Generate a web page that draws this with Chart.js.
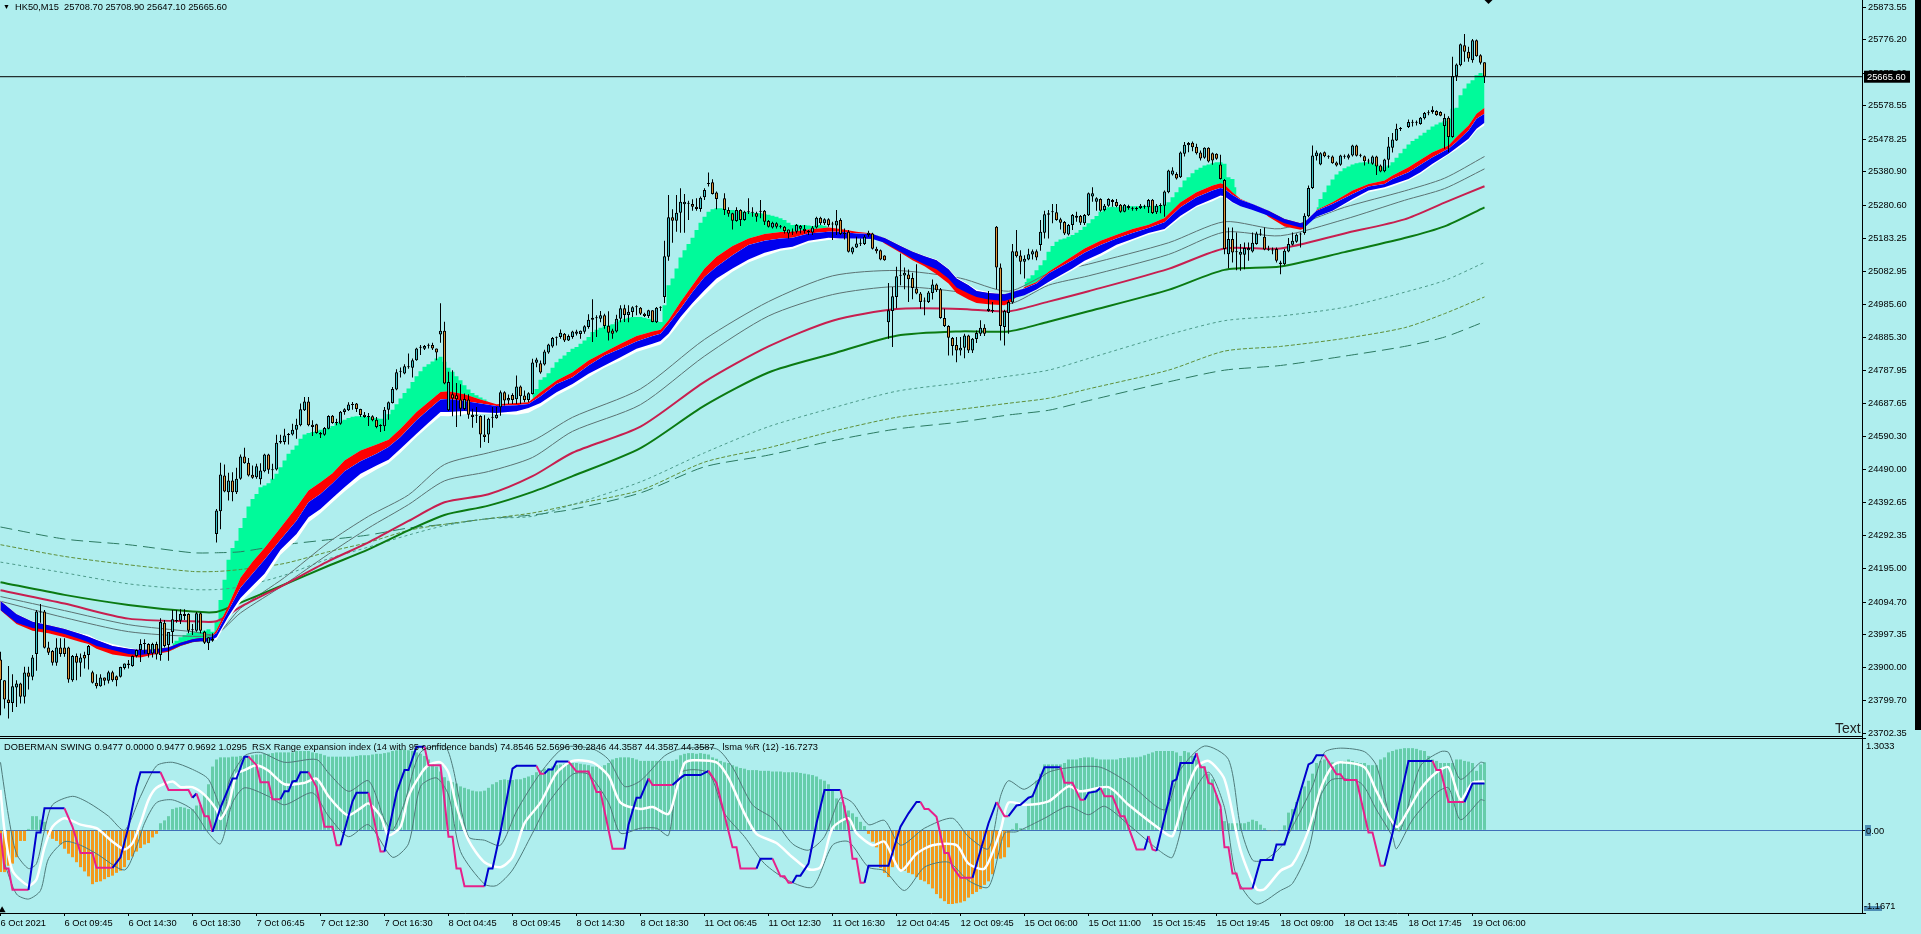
<!DOCTYPE html>
<html>
<head>
<meta charset="utf-8">
<title>HK50,M15</title>
<script src="https://cdn.jsdelivr.net/npm/chart.js@4/dist/chart.umd.min.js"></script>
<style>
  html, body { margin: 0; padding: 0; background: #afeeee; overflow: hidden; }
  #page { position: relative; width: 1921px; height: 934px; overflow: hidden; background: #afeeee; }
  canvas { position: absolute; left: 0; }
  #priceChart { top: 0; }
  #swingChart { top: 738px; }
  .txt { position: absolute; font: 9.3px "Liberation Sans", sans-serif; color: #000; white-space: pre; line-height: 12px; z-index: 5; }
  .sep { position: absolute; left: 0; width: 1862px; height: 1px; background: #000; z-index: 4; }
  #edge { position: absolute; left: 1915px; top: 0; width: 6px; height: 730px; background: #000; }
  .tag { position: absolute; background: #4f8fb5; z-index: 4; }
</style>
</head>
<body>
<div id="page">
  <canvas id="priceChart" width="1915" height="745"></canvas>
  <canvas id="swingChart" width="1915" height="196"></canvas>
  <div class="sep" style="top:736px"></div>
  <div class="sep" style="top:738px"></div>
  <div id="edge"></div>
  <div class="txt" style="left:3px;top:1px;font-size:7px">▼</div>
  <div class="txt" style="left:15px;top:1px">HK50,M15  25708.70 25708.90 25647.10 25665.60</div>
  <div class="txt" style="left:4px;top:741px">DOBERMAN SWING 0.9477 0.0000 0.9477 0.9692 1.0295  RSX Range expansion index (14 with 95 confidence bands) 74.8546 52.5696 30.2846 44.3587 44.3587 44.3587   lsma %R (12) -16.7273</div>
  <div class="txt" style="left:1835px;top:721px;font-size:14px;line-height:15px;color:#222">Text</div>
  <div class="tag" style="left:1865px;top:825px;width:6px;height:11px"></div>
  <div class="tag" style="left:1864px;top:906px;width:18px;height:5px"></div>
  <div class="txt" style="left:1866px;top:740px">1.3033</div>
  <div class="txt" style="left:1866px;top:825px">0.00</div>
  <div class="txt" style="left:1864px;top:900px">-1.1671</div>
</div>
<script>
const lastPrice = 25665.6;

const priceTicks = [25873.55, 25776.20, 25675.90, 25578.55, 25478.25, 25380.90, 25280.60, 25183.25, 25082.95, 24985.60, 24885.30, 24787.95,
  24687.65, 24590.30, 24490.00, 24392.65, 24292.35, 24195.00, 24094.70, 23997.35, 23900.00, 23799.70, 23702.35];

const timeLabels = ["6 Oct 2021", "6 Oct 09:45", "6 Oct 14:30", "6 Oct 18:30", "7 Oct 06:45", "7 Oct 12:30", "7 Oct 16:30", "8 Oct 04:45",
  "8 Oct 09:45", "8 Oct 14:30", "8 Oct 18:30", "11 Oct 06:45", "11 Oct 12:30", "11 Oct 16:30", "12 Oct 04:45", "12 Oct 09:45",
  "15 Oct 06:00", "15 Oct 11:00", "15 Oct 15:45", "15 Oct 19:45", "18 Oct 09:00", "18 Oct 13:45", "18 Oct 17:45", "19 Oct 06:00"];

// candles, one entry per bar
const opens = [
  23923,23861,23803,23793,23839,23851,23811,23884,23871,23939, 24063,24066,23959,23948,23913,23959,23959,23959,23861,23933,
  23913,23936,23936,23885,23853,23843,23869,23859,23885,23873, 23871,23897,23906,23903,23933,23951,23969,23969,23941,23969,
  23936,24033,23966,24005,24038,24039,24053,24059,24010,24009, 24061,24006,23971,23979,24298,24366,24473,24423,24458,24423,
  24463,24530,24511,24475,24468,24462,24486,24536,24491,24491, 24572,24573,24594,24596,24610,24623,24668,24694,24625,24626,
  24600,24595,24613,24652,24630,24628,24663,24668,24684,24688, 24672,24655,24648,24650,24640,24621,24620,24670,24690,24730,
  24783,24778,24797,24795,24818,24855,24852,24861,24863,24853, 24895,24906,24668,24716,24713,24700,24672,24700,24655,24652,
  24651,24596,24596,24646,24644,24677,24722,24697,24714,24701, 24739,24712,24699,24717,24810,24809,24805,24841,24859,24885,
  24887,24897,24877,24887,24897,24896,24903,24917,24939,24943, 24942,24952,24921,24907,24904,24942,24973,24953,24962,24976,
  24975,24957,24950,24967,24931,24975,25007,25127,25245,25235, 25259,25284,25286,25285,25277,25270,25305,25345,25350,25319,
  null,25302,25267,25257,25234,25267,25237,25260,25259,25257, 25262,25265,25234,25215,25227,25217,25217,25197,25200,25202,
  25211,25211,25201,25200,25215,25244,25227,25239,25224,25221, 25237,25195,25202,25140,25155,25166,25165,25192,25197,25151,
  25147,25131,24931,24965,25007,25070,25071,25074,25064,25032, 25017,24993,24992,25019,25044,25030,24944,24920,24884,24863,
  24847,24855,24892,24847,24881,24897,24915,24965,24965,25217, 25095,24917,24959,24990,25144,25131,25112,25119,25134,25144,
  25162,25199,25257,25260,25260,25239,25231,25194,25222,25244, 25249,25227,25251,25307,25292,25300,25267,25280,25291,25291,
  25283,25262,25279,25271,25270,25273,25277,25275,25298,25260, 25279,25280,25320,25373,25375,25365,25435,25461,25468,25456,
  25439,25423,25453,25437,25435,25403,25357,25135,25180,25141, 25133,25133,25147,25143,25165,25194,25187,25149,25146,25150,
  25105,25105,25143,25163,25172,25194,25198,25248,25333,25428, 25403,25440,25426,25427,25409,25402,25426,25423,25430,25460,
  25429,25428,25412,25405,25427,25400,25383,25417,25453,25475, 25509,null,25515,25528,25528,25524,25541,25556,25560,25563,
  25560,25518,25543,25485,25667,25700,25760,25740,25715,25775,25730,25708.7];
const highs = [
  23946,23861,23903,23879,23861,23853,23901,23901,23936,24071, 24089,24071,23976,23951,23986,23986,23986,23961,23936,23941,
  23941,23946,23966,23889,23879,23879,23869,23889,23889,23875, 23901,23911,23921,23935,23953,23983,23983,23971,23973,23976,
  24046,24041,24005,24071,24071,24073,24073,24061,24029,24065, 24063,24009,23989,24001,24373,24511,24506,24481,24483,24496,
  24536,24556,24525,24503,24508,24510,24538,24538,24508,24595, 24595,24613,24600,24628,24643,24688,24708,24708,24638,24628,
  24603,24618,24653,24654,24643,24666,24674,24692,24693,24690, 24673,24663,24660,24653,24648,24626,24678,24694,24738,24791,
  24796,24806,24838,24823,24855,24863,24863,24868,24870,24853, 24988,24933,24783,24788,24750,24746,24718,24716,24673,24678,
  24653,24653,24646,24678,24678,24727,24725,24715,24719,24772, 24742,24727,24722,24822,24825,24817,24849,24867,24887,24889,
  24910,24899,24895,24906,24909,24907,24922,24955,25000,24952, 24965,24957,24964,24912,24954,24982,24984,24982,24979,24982,
  24977,24960,24969,24967,24977,24979,25175,25312,25269,25312, 25332,25315,25295,25299,25302,25307,25332,25379,25359,25322,
  null,25317,25275,25259,25275,25269,25265,25302,25275,25262, 25297,25267,25237,25232,25230,25222,25219,25209,25212,25225,
  25222,25222,25207,25219,25247,25247,25242,25242,25232,25267, 25242,25212,25207,25157,25187,25182,25192,25205,25199,25157,
  25149,25132,25049,25037,25097,25137,25095,25089,25079,25105, 25022,25005,25025,25059,25047,25034,24972,24922,24887,24887,
  24887,24897,24894,24884,24907,24937,24925,25025,24992,25219, 25107,24969,24997,25165,25207,25147,25132,25151,25149,25149,
  25237,25265,25267,25285,25285,25244,25234,25225,25255,25262, 25252,25255,25319,25335,25305,25302,25285,25302,25300,25300,
  25285,25285,25283,25277,25277,25285,25283,25300,25300,25285, 25287,25325,25387,25395,25380,25442,25470,25470,25472,25465,
  25445,25455,25455,25439,25437,25432,25360,25215,25215,25200, 25165,25170,25170,25200,25202,25210,25215,25160,25155,25155,
  25115,25150,25183,25200,25197,25200,25257,25340,25460,25445, 25440,25442,25431,25430,25412,25432,25433,25435,25462,25462,
  25435,25430,25420,25430,25429,25403,25420,25485,25497,25525, 25515,null,25538,25537,25535,25545,25560,25565,25577,25565,
  25562,25555,25547,25725,25705,25765,25793,25755,25778,25777,25733,25708.9];
const lows = [
  23756,23776,23746,23766,23781,23791,23791,23833,23861,23889, 24033,23956,23936,23905,23904,23931,23931,23853,23856,23861,
  23871,23896,23893,23851,23836,23841,23846,23851,23856,23843, 23869,23893,23896,23901,23929,23915,23941,23929,23929,23923,
  23919,23959,23919,23971,24033,24029,24041,24001,23996,24006, 24001,23969,23951,23976,24273,24312,24423,24398,24396,24418,
  24460,24508,24470,24463,24463,24446,24483,24478,24461,24488, 24568,24566,24566,24593,24583,24620,24666,24620,24591,24598,
  24585,24592,24611,24628,24623,24625,24655,24666,24670,24663, 24648,24646,24621,24635,24614,24603,24606,24640,24688,24728,
  24766,24776,24792,24766,24816,24833,24848,24853,24848,24818, 24870,24746,24666,24650,24618,24650,24668,24643,24616,24630,
  24556,24573,24570,24616,24643,24652,24682,24687,24687,24687, 24687,24692,24692,24715,24797,24777,24802,24837,24855,24862,
  24882,24872,24875,24882,24892,24882,24897,24912,24872,24887, 24931,24912,24877,24882,24901,24931,24932,24931,24947,24952,
  24953,24947,24944,24931,24929,24965,24989,25115,25169,25202, 25199,25199,25237,25265,25265,25262,25297,25337,25313,25269,
  null,25252,25247,25209,25232,25219,25235,25255,25247,25232, 25242,25222,25215,25212,25212,25212,25197,25182,25192,25197,
  25197,25197,25192,25192,25212,25222,25222,25217,25177,25192, 25192,25179,25140,25135,25153,25159,25162,25187,25149,25137,
  25117,25115,24882,24857,24973,25042,25030,24992,25000,25015, 24972,24952,24989,24999,25022,24942,24917,24832,24832,24812,
  24832,24824,24839,24839,24869,24890,24890,24963,24959,25030, 24877,24862,24897,24987,25125,25075,25062,25117,25119,25117,
  25145,25182,25182,25227,25235,25209,25192,25191,25207,25232, 25222,25222,25249,25292,25265,25262,25263,25277,25277,25275,
  25259,25260,25268,25265,25265,25270,25271,25258,25255,25255, 25257,25247,25317,25370,25358,25363,25427,25440,25443,25433,
  25415,25420,25409,25402,25417,25358,25135,25093,25110,25087, 25085,25090,25115,25140,25163,25190,25147,25145,25135,25110,
  25075,25102,25141,25161,25169,25155,25193,25245,25330,25415, 25401,25425,25420,25405,25397,25399,25420,25418,25427,25427,
  25425,25400,25405,25402,25372,25380,25380,25393,25439,25473, 25503,null,25512,25517,25520,25522,25538,25550,25555,25549,
  25547,25450,25440,25483,25653,25697,25710,25710,25707,25725,25702,25647.1];
const closes = [
  23861,23803,23793,23843,23851,23811,23884,23871,23929,24066, 24066,23958,23943,23913,23959,23939,23939,23863,23933,23913,
  23929,23926,23963,23853,23843,23869,23859,23885,23861,23861, 23900,23911,23911,23933,23951,23969,23971,23939,23969,23938,
  24035,23963,24005,24043,24040,24059,24059,24009,24012,24061, 24009,23973,23989,23985,24368,24476,24425,24458,24423,24463,
  24530,24510,24473,24466,24501,24488,24536,24490,24489,24571, 24576,24593,24596,24610,24625,24671,24694,24623,24618,24600,
  24596,24615,24651,24630,24632,24664,24671,24685,24686,24672, 24654,24648,24650,24638,24618,24623,24670,24692,24732,24782,
  24785,24800,24799,24818,24853,24857,24860,24863,24853,24841, 24906,24748,24753,24703,24701,24673,24702,24655,24648,24654,
  24596,24588,24643,24648,24655,24722,24697,24705,24699,24739, 24710,24699,24719,24811,24820,24781,24844,24865,24884,24887,
  24900,24877,24890,24904,24904,24906,24919,24939,24945,24945, 24952,24920,24900,24897,24942,24973,24953,24963,24976,24978,
  24957,24950,24967,24932,24975,24977,25129,25245,25235,25259, 25292,25292,25288,25277,25270,25304,25327,25347,25315,25300,
  null,25267,25256,25235,25267,25237,25262,25262,25261,25247, 25264,25232,25217,25229,25217,25219,25204,25209,25202,25222,
  25219,25204,25203,25215,25244,25227,25239,25222,25226,25235, 25195,25197,25142,25155,25167,25168,25187,25199,25151,25144,
  25119,25117,24967,25009,25069,25072,25079,25060,25034,25017, 24992,24995,25020,25044,25027,24944,24920,24885,24860,24847,
  24855,24892,24847,24882,24899,24915,24897,24972,24967,25095, 24920,24965,24992,25144,25129,25112,25121,25135,25144,25125,
  25202,25254,25253,25261,25237,25229,25197,25222,25252,25250, 25229,25252,25317,25317,25302,25265,25280,25300,25297,25278,
  25262,25283,25273,25273,25272,25280,25279,25297,25258,25280, 25281,25322,25385,25385,25361,25439,25462,25467,25455,25437,
  25421,25453,25412,25415,25420,25360,25150,25180,25140,25143, 25142,25153,25153,25169,25197,25196,25149,25147,25148,25115,
  25110,25145,25165,25175,25193,25196,25250,25333,25430,25439, 25437,25428,25428,25407,25400,25430,25428,25431,25460,25429,
  25431,25413,25414,25427,25397,25382,25418,25457,25478,25510, 25511,null,25530,25530,25530,25543,25557,25558,25567,25551,
  25549,25542,25485,25668,25702,25763,25740,25720,25775,25727,25707,25665.6];

// green cloud top, per bar, in four runs
const cloudStart = [43, 133, 256, 329];
const cloudA = [23971,23979,23989,23996,24001,24004,24006,24006,24009,24013,24006,
  24035,24101,24161,24221,24256,24278,24316,24346,24380,24403,24418,24438,24443,24450,24463,24478,24498,24518,24538,24550,24563,24583,24596,
  24600,24603,24606,24610,24612,24615,24621,24630,24636,24640,24645,24649,24650,24650,24649,24648,24646,24644,24643,24643,24656,24670,24686,
  24703,24720,24733,24753,24770,24785,24798,24806,24814,24823,24828,24813,24795,24783,24770,24758,24743,24730,24720,24713,24706,24700,24693];
const cloudB = [24719,24732,24759,24767,24779,24795,24812,24822,24832,24842,24852,24857,24867,24877,24887,24902,24909,24915,24919,24922,24925,
  24932,24937,24942,24945,24947,24947,24947,24945,24942,24939,24935,24932,24982,25042,25062,25092,25125,25147,25165,25184,25207,25229,25247,
  25262,25269,25272,25272,25270,25267,25267,25265,25264,25262,25260,25259,25258,25257,25255,25253,25250,25247,25242,25237,25229,25222,25224,
  25222,25222,25221,25219,25222,25222,25220,25217];
const cloudC = [25052,25062,25072,25087,25102,25117,25142,25159,25172,25179,25182,25187,25192,25199,25207,25217,25227,25239,25249,25262,25270,
  25275,25277,25275,25277,25278,25278,25278,25278,25278,25279,25279,25280,25280,25280,25283,25290,25305,25320,25335,25355,25365,25377,25387,
  25393,25400,25403,25407,25410,25410,25405,25365,25360,25335];
const cloudD = [25275,25300,25320,25340,25358,25373,25383,25392,25397,25403,25407,25409,25410,25410,25407,25403,25397,25395,25400,25410,25423,
  25437,25450,25463,25473,25480,25490,25498,25507,25517,25523,25529,25533,25540,25570,25573,25610,25630,25645,25655,25670,25677,25670];

// ribbon edges, read at these bars
const ribbonBars = [0,4,8,12,16,20,22,24,28,32,35,38,42,45,48,50,52,54,57,60,63,66,70,74,77,80,83,86,90,94,97,100,104,107,110,112,116,120,124,129,132,
  135,139,143,147,151,155,159,163,165,167,170,173,176,179,183,187,191,195,198,202,207,210,214,218,221,225,228,231,234,237,239,242,244,247,251,253,256,
  259,262,268,271,275,279,283,287,291,295,299,303,305,306,308,310,313,317,321,325,326,329,333,338,342,346,348,352,355,358,362,364,367,369,371];
const ribbonWhite = [24099,24059,24037,24026,24015,24001,23997,23983,23969,23958,23951,23953,23959,23973,23983,23987,23986,23981,24045,24095,24128,24164,
  24236,24280,24333,24360,24393,24425,24463,24491,24510,24541,24588,24620,24651,24650,24656,24658,24658,24655,24661,
  24679,24712,24737,24767,24795,24817,24842,24857,24865,24887,24932,24977,25012,25047,25082,25110,25129,25145,25150,25169,25177,25180,25182,25180,25184,
  25161,25143,25130,25119,25092,25065,25045,25029,25022,25015,25017,25012,25027,25047,25087,25107,25129,25155,25175,25193,25205,25243,25275,25293,25305,
  25305,25288,25278,25267,25265,25240,25227,25230,25247,25263,25295,25320,25330,25337,25355,25375,25400,25432,25447,25475,25505,25520];
const ribbonRed = [24070,24029,24009,24001,23989,23975,23969,23955,23938,23931,23929,23937,23946,23963,23974,23977,23979,24011,24085,24167,24215,24256,
  24317,24378,24428,24453,24480,24518,24548,24566,24580,24613,24663,24693,24723,24725,24716,24700,24686,24690,24692,
  24722,24757,24782,24817,24842,24867,24890,24904,24909,24937,24992,25042,25092,25127,25159,25182,25195,25201,25202,25209,25215,25210,25202,25197,25167,
  25139,25117,25099,25075,25047,25019,24999,24989,24985,24982,24995,25037,25052,25082,25129,25152,25175,25193,25210,25223,25243,25290,25320,25340,25347,
  25343,25320,25300,25285,25247,25218,25208,25212,25267,25290,25325,25345,25355,25370,25395,25417,25440,25460,25485,25520,25555,25573];
const blueUpper = [24098,24058,24036,24025,24014,23999,23991,23981,23963,23955,23951,23953,23959,23973,23983,23987,23986,24001,24070,24137,24179,24221,
  24281,24338,24393,24418,24450,24486,24516,24538,24558,24588,24638,24670,24700,24702,24696,24688,24681,24683,24687,
  24710,24747,24767,24802,24832,24852,24874,24890,24897,24925,24972,25022,25067,25097,25132,25162,25175,25182,25184,25197,25202,25202,25197,25195,25183,
  25159,25142,25129,25117,25090,25062,25042,25025,25019,25015,25022,25032,25047,25077,25117,25139,25162,25182,25198,25213,25230,25275,25305,25325,25333,
  25330,25312,25298,25285,25265,25240,25227,25230,25265,25285,25315,25337,25345,25360,25380,25402,25425,25450,25470,25505,25540,25555];
const blueLower = [24071,24033,24017,24011,23999,23983,23974,23963,23951,23939,23936,23941,23949,23965,23975,23977,23976,23989,24052,24107,24143,24179,
  24251,24298,24348,24373,24406,24438,24478,24503,24520,24553,24598,24631,24663,24663,24666,24662,24660,24665,24675,
  24690,24722,24747,24777,24802,24827,24852,24867,24875,24897,24947,24989,25027,25062,25092,25119,25139,25152,25157,25175,25184,25182,25182,25180,25169,
  25142,25122,25105,25090,25062,25035,25017,25007,24999,24995,25002,25012,25029,25052,25092,25115,25137,25163,25180,25198,25210,25250,25280,25300,25310,
  25308,25290,25278,25267,25250,25227,25215,25215,25247,25265,25300,25325,25335,25343,25360,25380,25405,25435,25453,25480,25510,25528];

// moving averages, read at these bars
const maBars = [0,16,32,48,54,60,71,82,92,102,111,122,133,143,160,176,192,208,224,240,252,262,272,292,306,320,336,351,361,371];
const maGreen = [24154,24116,24086,24066,24065,24093,24147,24203,24252,24309,24355,24383,24424,24471,24555,24682,24781,24837,24891,24904,24904,24933,24964,25028,25088,25098,25141,25183,25218,25275];
const maCrimson = [24130,24090,24045,24037,24037,24080,24147,24217,24273,24337,24393,24417,24471,24541,24619,24753,24859,24936,24971,24971,24964,24993,25024,25091,25152,25152,25197,25239,25289,25338];
const maGrayA = [24111,24069,24027,24006,23999,24076,24168,24273,24351,24415,24506,24541,24577,24647,24732,24880,24993,25070,25086,25063,25024,25077,25105,25169,25232,25211,25275,25324,25362,25427];
const maGrayB = [24097,24048,24006,23992,23999,24062,24147,24238,24316,24386,24457,24485,24527,24605,24685,24830,24950,25014,25038,25021,24986,25042,25070,25134,25201,25190,25239,25296,25331,25390];
const maLongDash = [24319,24283,24266,24242,24242,24245,24266,24281,24295,24316,24327,24344,24355,24372,24421,24499,24534,24577,24612,24633,24654,24668,24697,24753,24788,24802,24830,24859,24887,24933];
const maOlive = [24266,24231,24206,24186,24186,24192,24210,24245,24273,24309,24327,24344,24361,24386,24429,24513,24556,24605,24647,24671,24689,24704,24732,24788,24845,24859,24883,24915,24957,25007];
const maShortDash = [24214,24182,24149,24132,24132,24140,24175,24224,24259,24295,24323,24344,24351,24386,24454,24541,24619,24675,24725,24750,24770,24788,24823,24894,24936,24950,24976,25021,25056,25110];

// lower panel histogram, one entry per bar
const swingHist = [
  -.59,-.59,-.5,-.47,-.38,-.15,-.15,.02,.2,.2, .15,.12,-.09,-.12,-.15,-.2,-.26,-.33,-.38,-.45,
  -.52,-.58,-.65,-.76,-.73,-.72,-.69,-.66,-.64,-.6, -.57,-.52,-.42,-.37,-.3,-.25,-.2,-.18,-.1,-.05,
  .1,.14,.2,.3,.32,.33,.32,.3,.3,.35, .36,.5,.65,.9,1,1.03,1.03,1.03,1.04,1.04,
  1.05,1.05,1.05,1.06,1.07,1.07,1.08,1.08,1.09,1.1, 1.1,1.1,1.1,1.1,1.12,1.12,1.12,1.12,1.1,1.09,
  1.08,1.06,1.04,1.04,1.04,1.04,1.04,1.04,1.04,1.05, 1.06,1.06,1.06,1.07,1.08,1.08,1.09,1.1,1.12,1.13,
  1.14,1.14,1.13,1.12,1.1,1.08,1.05,1,.95,.9, .83,.75,.7,.68,.66,.62,.6,.58,.56,.55,
  .55,.56,.6,.65,.68,.71,.72,.71,.71,.72, .72,.74,.76,.78,.82,.85,.87,.88,.9,.92,
  .93,.94,.95,.95,.95,.94,.93,.92,.9,.9, .9,.92,.95,1,1.02,1.03,1.03,1.03,1.02,1,
  .98,.98,.98,.98,.98,.98,.98,.98,.98,1, 1.06,1.08,1.09,1.09,1.08,1.09,1.08,1.07,1.03,1.01,
  .98,.96,.95,.92,.9,.88,.87,.85,.85,.85, .84,.84,.84,.83,.83,.83,.82,.82,.82,.82,
  .81,.8,.79,.78,.76,.72,.7,.65,.57,.45, .4,.35,.28,.24,.19,.12,.06,-.05,-.16,-.24,
  -.53,-.6,-.66,-.52,-.5,-.55,-.57,-.6,-.62,-.66, -.7,-.72,-.76,-.82,-.9,-.96,-1,-1.04,-1.04,-1.03,
  -1.02,-1,-.95,-.9,-.87,-.83,-.77,-.72,-.62,-.4, -.4,-.38,-.24,.02,.1,.03,.02,.38,.5,.7,
  .8,.93,.93,.93,.93,.93,.95,1,1,1, 1.02,1.03,1.03,1.03,1.01,1,1,1,1,1,
  1.02,1.02,1.03,1.03,1.03,1.04,1.06,1.08,1.1,1.12, 1.12,1.12,1.12,1.12,1.1,1.05,1.12,1.1,1.05,1,
  .95,.9,.8,.72,.5,.3,.13,.1,.1,.1, .1,.1,.12,.15,.13,.08,.03,-.01,-.01,-.01,
  0,.07,.25,.3,.4,.55,.62,.7,.8,.95, .98,1,.98,.96,.95,.98,.98,1,.98,.96,
  .95,.95,.92,.92,.92,1,1.03,1.1,1.12,1.14, 1.15,1.16,1.16,1.16,1.15,1.13,1.12,1.05,1,.98,
  .95,.95,.95,.95,1,1,.98,.97,.95,.84,.93,.96];

// stepped swing line, vertices
const swingBars = [0,1,2,3,7,9,10,11,16,18,20,23,24,28,30,32,34,35,40,42,47,48,49,51,52,53,55,58,59,61,62,64,65,67,68,70,71,72,73,74,75,77,79,81,83,84,85,88,89,92,95,96,99,101,102,104,106,107,110,112,113,114,115,116,121,122,123,125,128,129,134,135,136,137,138,139,142,144,147,149,150,153,156,157,159,
  160,162,163,168,170,171,175,177,179,183,184,185,189,190,193,195,196,197,198,199,200,202,204,206,210,212,213,214,215,216,217,222,225,227,229,230,231,232,234,236,237,238,240,243,247,249,251,252,254,255,257,258,261,265,266,268,270,271,272,274,275,276,278,280,281,284,286,287,288,289,292,293,294,295,298,299,300,301,302,303,305,306,307,308,309,310,313,315,318,319,320,
  321,324,327,328,329,331,334,335,336,339,342,343,345,346,348,352,358,359,360,362,366,368,371];
const swingVals = [-.04,-.54,-.54,-.84,-.84,-.03,-.03,.31,.31,.05,-.32,-.32,-.53,-.53,-.38,.05,.62,.82,.82,.57,.57,.46,.52,.2,.2,-.02,.32,.73,.73,1.04,1.04,.92,.68,.68,.44,.44,.55,.55,.69,.7,.82,.82,.61,.05,.05,-.21,-.21,.41,.53,.53,-.3,-.3,.53,.85,.85,1.18,1.18,.92,.92,-.09,-.09,-.54,-.54,-.79,-.79,-.54,-.54,-.02,.87,.91,.91,.8,.8,.86,.86,.97,.97,.83,.83,.54,.54,-.26,-.26,.08,.46,
  .46,.73,.64,.64,.74,.78,.78,.84,.67,-.24,-.24,-.54,-.54,-.4,-.4,-.65,-.65,-.74,-.74,-.64,-.64,-.47,.1,.57,.57,.05,-.4,-.4,-.74,-.74,-.5,-.5,.05,.24,.4,.4,.3,.3,.19,-.32,-.32,-.52,-.67,-.67,.1,.4,.2,.2,.35,.36,.46,.48,.89,.89,.67,.67,.43,.43,.53,.55,.6,.48,.48,.2,.2,-.27,-.27,-.08,-.27,-.29,.41,.69,.72,.95,.95,1.09,.89,.89,.67,.65,.34,-.24,-.24,-.61,-.61,-.82,-.82,-.42,-.42,-.2,-.2,
  -.2,.36,.93,.96,1.06,1.06,.79,.79,.71,.71,-.03,-.03,-.5,-.5,-.04,.98,.98,.85,.85,.4,.4,.66,.66];

// white signal line
const whiteBars = [0,1,3,7,9,11,13,16,20,24,28,31,33,35,37,39,43,45,48,51,54,55,57,59,61,64,67,71,76,79,82,85,87,90,92,95,97,100,102,105,107,110,112,114,117,121,125,128,131,135,139,143,148,152,155,160,
  163,167,169,171,173,179,182,186,189,194,198,202,205,208,212,214,218,221,225,229,233,239,242,246,250,252,256,262,267,270,277,282,290,293,296,299,302,306,310,314,316,320,323,327,330,333,335,341,344,349,352,355,359,362,365,368,371];
const whiteVals = [.57,0,-.57,-.78,-.69,-.24,.05,.17,.08,.03,-.16,-.27,-.18,.1,.43,.6,.69,.61,.61,.5,.29,.16,.36,.79,.85,.92,.84,.65,.67,.73,.48,.29,.21,.31,.38,.2,-.07,.05,.48,.79,.92,.96,.81,.34,-.14,-.45,-.52,-.38,.1,.39,.81,.98,.96,.77,.39,.3,
  .33,.23,.58,.95,.99,.96,.74,.24,-.05,-.18,-.38,-.55,-.52,.03,.17,-.04,-.21,-.16,-.57,-.33,-.21,-.21,-.47,-.54,0,.39,.36,.41,.62,.55,.61,.36,.01,-.08,.48,.89,.98,.72,-.28,-.83,-.83,-.57,-.48,0,.58,.91,.96,.89,.55,.05,.29,.58,.82,.89,.43,.67,.69];

// confidence bands
const upperBars = [0,2,4,7,9,11,13,18,22,27,31,35,39,43,48,52,56,57,61,65,71,79,82,87,92,96,98,101,105,111,113,117,121,125,129,135,141,148,152,156,160,
  166,170,179,183,188,193,198,202,206,210,213,217,221,225,231,238,242,247,250,252,256,262,268,275,282,291,295,301,307,310,313,316,320,323,328,331,335,341,344,348,350,355,360,362,365,370,371];
const upperVals = [.96,.2,-.33,-.54,-.47,0,.36,.48,.39,.2,0,.48,.91,.96,.86,.72,.2,.67,1.05,1.1,.96,1,.81,.55,.7,.15,0,.39,1.1,1.19,.91,-.09,-.14,-.21,.27,.81,1.17,1.15,1,.62,.7,
  1.05,1.15,1.15,.89,.36,.17,-.19,-.28,-.09,.46,.39,.08,.14,-.21,.03,.17,-.09,-.26,.48,.7,.58,.82,.89,.89,.67,.29,.86,1.19,1,.05,-.42,-.42,-.24,.05,.62,1.1,1.16,1.11,.91,.05,0,.91,1.11,1.1,.72,.96,.95];
const lowerBars = [1,4,7,10,12,16,20,24,31,34,36,39,43,48,52,55,58,61,67,71,78,82,87,92,98,102,105,109,112,115,121,124,128,133,137,143,147,152,155,160,
  164,167,170,177,181,186,191,197,203,208,212,217,221,226,231,237,242,247,251,254,261,267,272,276,282,290,293,297,302,306,309,314,320,323,327,330,333,340,344,348,349,353,359,362,365,370,371];
const lowerVals = [-.47,-.9,-.97,-.85,-.4,-.16,-.21,-.33,-.56,-.23,.1,.39,.43,.29,-.04,-.19,.39,.6,.48,.36,.53,.2,-.09,.08,-.38,-.19,.62,.74,.5,-.3,-.76,-.78,-.56,-.04,.39,.79,.79,.39,-.04,.03,
  .03,-.07,.81,.81,.24,-.09,-.47,-.71,-.8,-.21,-.16,-.52,-.57,-.85,-.52,-.45,-.71,-.8,-.04,-.02,.17,.34,.22,.34,.08,-.3,-.38,.39,.82,.32,-.66,-1.04,-.85,-.75,-.28,.48,.72,.67,.29,-.09,-.26,.15,.53,.6,.15,.43,.42];

const barCount = opens.length;
const xMin = -0.125;
const xMax = 465.375;

Chart.defaults.font.family = '"Liberation Sans", sans-serif';
Chart.defaults.font.size = 9.3;
Chart.defaults.color = "#000";

const series = (bars, vals) => bars.map((bar, i) => ({ x: bar, y: vals[i] }));
const run = (start, vals) => vals.map((v, i) => ({ x: start + i, y: v }));

const cloudPoints = [
  ...run(cloudStart[0], cloudA), { x: cloudStart[0] + cloudA.length, y: null },
  ...run(cloudStart[1], cloudB), { x: cloudStart[1] + cloudB.length, y: null },
  ...run(cloudStart[2], cloudC), { x: cloudStart[2] + cloudC.length, y: null },
  ...run(cloudStart[3], cloudD),
];

const wickPoints = [];
const bodyPoints = [];
const bodyColors = [];
for (let i = 0; i < barCount; i++) {
  if (opens[i] === null) continue;
  wickPoints.push({ x: i, y: [lows[i], highs[i]] });
  bodyPoints.push({ x: i, y: [opens[i], closes[i]] });
  bodyColors.push(closes[i] >= opens[i] ? "#3cc4c8" : "#dd9438");
}

const thin = (label, bars, vals, color, width, dash, order) => ({
  type: "line", label, data: series(bars, vals), borderColor: color, borderWidth: width,
  borderDash: dash || [], pointRadius: 0, fill: false, order, tension: 0.25,
});

// white and red both fill to the blue upper edge, blue paints over the overlap
const ribbon = (label, vals, color, target, order) => ({
  type: "line", label, data: series(ribbonBars, vals), borderWidth: 0, borderColor: color,
  backgroundColor: color, pointRadius: 0, fill: target === null ? false : { target }, order,
});

const priceData = [
  { type: "line", label: "cloud", data: cloudPoints, stepped: "middle", borderWidth: 0, pointRadius: 0,
    backgroundColor: "#00fa9a", fill: { target: 2 }, order: 12, spanGaps: false },
  ribbon("white", ribbonWhite, "#ffffff", 3, 7),
  ribbon("red", ribbonRed, "#ff0000", 3, 7),
  ribbon("blue upper", blueUpper, "#0000ee", 4, 6),
  ribbon("blue lower", blueLower, "#0000ee", null, 6),
  thin("short dash", maBars, maShortDash, "#4d9a8a", 1, [3, 3], 11),
  thin("olive", maBars, maOlive, "#5f8f3a", 1, [4, 2], 11),
  thin("long dash", maBars, maLongDash, "#2c7a62", 1, [12, 6], 11),
  thin("gray a", maBars, maGrayA, "#5b7272", 1, [], 10),
  thin("gray b", maBars, maGrayB, "#5b7272", 1, [], 10),
  thin("crimson", maBars, maCrimson, "#c71f4f", 2, [], 8),
  thin("green", maBars, maGreen, "#0b7a12", 2, [], 8),
  { type: "bar", label: "wick", data: wickPoints, backgroundColor: "#000", maxBarThickness: 1, barPercentage: 1, categoryPercentage: 1,
    grouped: false, inflateAmount: 0, order: 3 },
  { type: "bar", label: "body", data: bodyPoints, backgroundColor: bodyColors, borderColor: "#000", borderWidth: 1, borderSkipped: false,
    maxBarThickness: 3, barPercentage: 1, categoryPercentage: 1, grouped: false, inflateAmount: 0, minBarLength: 1, order: 2 },
  { type: "line", label: "last", data: [{ x: xMin, y: lastPrice }, { x: xMax, y: lastPrice }], borderColor: "#000", borderWidth: 1, pointRadius: 0, order: 1 },
  { type: "line", label: "marker", data: [{ x: 372, y: 25895 }], showLine: false, pointStyle: "rectRot", pointRadius: 4,
    pointBackgroundColor: "#000", pointBorderWidth: 0, order: 1 },
];

const priceTag = {
  id: "priceTag",
  afterDraw(chart) {
    const y = chart.scales.y.getPixelForValue(lastPrice);
    const x = chart.chartArea.right + 2;
    const ctx = chart.ctx;
    ctx.save();
    ctx.fillStyle = "#000";
    ctx.fillRect(x, y - 6, 46, 12);
    ctx.fillStyle = "#fff";
    ctx.font = '9.3px "Liberation Sans", sans-serif';
    ctx.textBaseline = "middle";
    ctx.fillText(lastPrice.toFixed(2), x + 3, y + 0.5);
    ctx.restore();
  },
};

new Chart(document.getElementById("priceChart"), {
  type: "line",
  data: { datasets: priceData },
  plugins: [priceTag],
  options: {
    responsive: false,
    animation: false,
    devicePixelRatio: 1,
    events: [],
    layout: { autoPadding: false, padding: { bottom: 8 } },
    plugins: { legend: { display: false }, tooltip: { enabled: false } },
    scales: {
      x: { type: "linear", display: false, min: xMin, max: xMax, offset: false, grid: { offset: false } },
      y: {
        type: "linear", position: "right", min: 23691, max: 25895, beginAtZero: false,
        grid: { drawOnChartArea: false, tickLength: 4, tickColor: "#000" },
        border: { color: "#000" },
        ticks: { padding: 2, color: "#000", autoSkip: false, callback: (v) => v.toFixed(2) },
        afterBuildTicks: (s) => { s.ticks = priceTicks.slice().reverse().map((value) => ({ value })); },
        afterFit: (s) => { s.width = 53; s.paddingTop = 0; s.paddingBottom = 0; },
      },
    },
  },
});

const histColors = swingHist.map((v) => (v >= 0 ? "#66cdaa" : "#f39a1c"));

// flat stretches keep the colour of the move before them
const swingDir = [];
swingVals.forEach((v, i) => {
  if (i === 0) swingDir.push(-1);
  else if (v > swingVals[i - 1]) swingDir.push(1);
  else if (v < swingVals[i - 1]) swingDir.push(-1);
  else swingDir.push(swingDir[i - 1]);
});

const swingData = [
  { type: "bar", label: "hist", data: run(0, swingHist), backgroundColor: histColors, maxBarThickness: 3, barPercentage: 1, categoryPercentage: 1,
    grouped: false, inflateAmount: 0, order: 6 },
  thin("upper", upperBars, upperVals, "#4f7a7a", 1, [], 5),
  thin("lower", lowerBars, lowerVals, "#4f7a7a", 1, [], 5),
  thin("white", whiteBars, whiteVals, "#ffffff", 2.5, [], 4),
  { type: "line", label: "swing", data: series(swingBars, swingVals), borderWidth: 2, borderColor: "#0000cd", pointRadius: 0, order: 3,
    segment: { borderColor: (ctx) => (swingDir[ctx.p1DataIndex] > 0 ? "#0000cd" : "#e6208a") } },
  { type: "line", label: "corner", data: [{ x: 0.4, y: -1.13 }], showLine: false, pointStyle: "triangle", pointRadius: 4,
    pointBackgroundColor: "#000", pointBorderWidth: 0, order: 1 },
];

new Chart(document.getElementById("swingChart"), {
  type: "line",
  data: { datasets: swingData },
  options: {
    responsive: false,
    animation: false,
    devicePixelRatio: 1,
    events: [],
    layout: { autoPadding: false },
    plugins: { legend: { display: false }, tooltip: { enabled: false } },
    scales: {
      x: {
        type: "linear", min: xMin, max: xMax, offset: false,
        grid: { offset: false, drawOnChartArea: false, tickLength: 3, tickColor: "#000" },
        border: { color: "#000" },
        ticks: { align: "start", autoSkip: false, maxRotation: 0, padding: 2, color: "#000", callback: (v) => timeLabels[v / 16] },
        afterBuildTicks: (s) => { s.ticks = timeLabels.map((_, k) => ({ value: k * 16 })); },
        afterFit: (s) => { s.height = 21; s.paddingLeft = 0; s.paddingRight = 0; },
      },
      y: {
        type: "linear", position: "right", min: -1.1671, max: 1.3033, beginAtZero: false,
        grid: { tickLength: 4, tickColor: "#000", color: (c) => (c.tick.value === 0 ? "#3f6fb8" : "transparent") },
        border: { color: "#000" },
        ticks: { display: false },
        afterBuildTicks: (s) => { s.ticks = [{ value: -1.1671 }, { value: 0 }, { value: 1.3033 }]; },
        afterFit: (s) => { s.width = 53; s.paddingTop = 0; s.paddingBottom = 0; },
      },
    },
  },
});
</script>
</body>
</html>
